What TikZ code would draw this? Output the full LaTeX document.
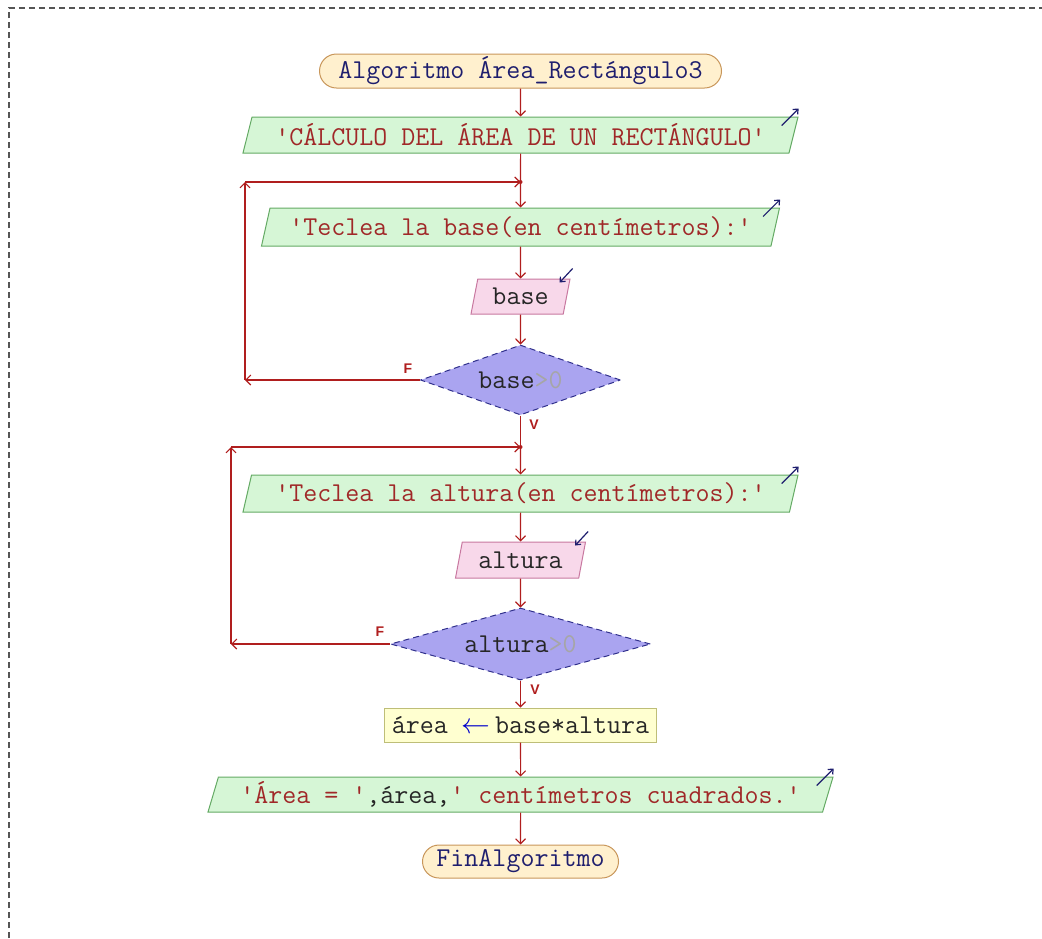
\documentclass[tikz,border=0pt]{standalone}
\usepackage{fontspec}
\setsansfont{Liberation Sans}
\usetikzlibrary{shapes.geometric,shapes.misc,arrows.meta}
\definecolor{flowred}{RGB}{176,30,30}
\definecolor{strred}{RGB}{160,40,40}
\definecolor{navytext}{RGB}{30,30,110}
\definecolor{termfill}{RGB}{255,240,206}
\definecolor{termdraw}{RGB}{200,150,90}
\definecolor{outfill}{RGB}{214,246,214}
\definecolor{outdraw}{RGB}{100,170,100}
\definecolor{infill}{RGB}{248,216,234}
\definecolor{indraw}{RGB}{200,120,160}
\definecolor{condfill}{RGB}{170,164,240}
\definecolor{conddraw}{RGB}{48,48,140}
\definecolor{asgfill}{RGB}{255,255,208}
\definecolor{asgdraw}{RGB}{190,190,120}
\definecolor{framegray}{RGB}{85,85,85}
\tikzset{%
  flownode/.style = {font=\ttfamily\fontsize{13.6}{15}\selectfont,%
                     inner sep=0pt, line width=0.5pt},%
  termbox/.style  = {flownode, rounded rectangle, draw=termdraw,%
                     fill=termfill, text=navytext},%
  outbox/.style   = {flownode, trapezium, trapezium left angle=68,%
                     trapezium right angle=112, trapezium stretches body,%
                     draw=outdraw, fill=outfill, text=strred},%
  inbox/.style    = {outbox, draw=indraw, fill=infill, text=black!85},%
  condbox/.style  = {flownode, diamond, aspect=2.8, draw=conddraw,%
                     densely dashed, fill=condfill, text=black!85},%
  asgbox/.style   = {flownode, rectangle, draw=asgdraw, fill=asgfill,%
                     text=black!85},%
  flow/.style     = {draw=flowred, line width=0.55pt,%
                     -{Straight Barb[length=2.5pt,width=5pt]}},%
  flowline/.style = {draw=flowred, line width=0.55pt},%
  iconarrow/.style= {draw=navytext, line width=0.6pt,%
                     -{Straight Barb[length=2pt,width=3.5pt]}},%
  flabel/.style   = {font=\sffamily\bfseries\fontsize{7}{8}\selectfont,%
                     text=flowred, inner sep=0pt}%
}
\begin{document}
\begin{tikzpicture}[x=0.5pt,y=-0.5pt]
	\useasboundingbox (0,0) rectangle (1042,938);
	\draw[framegray, line width=1pt, dash pattern=on 3pt off 2pt]
		(9,938) -- (9,8) -- (1042,8);
	\node[termbox, minimum width=201pt, minimum height=17pt] (start) at (520.5,71)
		{Algoritmo Área\_Rectángulo3};
	\node[outbox, minimum width=277.5pt, minimum height=18pt] (p1) at (520.5,135)
		{'CÁLCULO DEL ÁREA DE UN RECTÁNGULO'};
	\coordinate (j1) at (520.5,182);
	\coordinate (l1) at (245,182);
	\node[outbox, minimum width=259pt, minimum height=19pt] (p2) at (520.5,227)
		{'Teclea la base(en centímetros):'};
	\node[inbox, minimum width=49.5pt, minimum height=17.5pt] (base) at (520.5,296.5)
		{base};
	\node[condbox, minimum width=100pt, minimum height=35pt] (d1) at (520.5,380)
		{base\textcolor{black!35}{>0}};
	\coordinate (j2) at (520.5,447);
	\coordinate (l2) at (231,447);
	\node[outbox, minimum width=277.5pt, minimum height=18.5pt] (p3) at (520.5,493.5)
		{'Teclea la altura(en centímetros):'};
	\node[inbox, minimum width=65pt, minimum height=18pt] (altura) at (520.5,560)
		{altura};
	\node[condbox, minimum width=130pt, minimum height=36pt] (d2) at (520.5,644)
		{altura\textcolor{black!35}{>0}};
	\node[asgbox, minimum width=136pt, minimum height=17pt] (asg) at (520.5,725)
		{área \textcolor{blue!80!black}{$\leftarrow$}\,base*altura};
	\node[outbox, minimum width=312.5pt, minimum height=17.5pt, text=black!85] (p4) at (520.5,794.5)
		{\textcolor{strred}{'Área = '},área,\textcolor{strred}{' centímetros cuadrados.'}};
	\node[termbox, minimum width=98pt, minimum height=16.5pt] (end) at (520.5,861.5)
		{FinAlgoritmo};
	\node[flabel] (f1) at (408,369) {F};
	\node[flabel] (v1) at (534,425) {V};
	\node[flabel] (f2) at (380,632) {F};
	\node[flabel] (v2) at (535,690) {V};
	\draw[flow] (start) -- (p1);
	\draw[flowline] (p1) -- (j1);
	\draw[flow] (j1) -- (p2);
	\draw[flow] (p2) -- (base);
	\draw[flow] (base) -- (d1);
	\draw[flow] (d1.west) -- (d1.west -| l1);
	\draw[flow] (d1.west -| l1) -- (l1);
	\draw[flow] (l1) -- (j1);
	\draw[flowline] (d1.south) -- (j2);
	\draw[flow] (j2) -- (p3);
	\draw[flow] (p3) -- (altura);
	\draw[flow] (altura) -- (d2);
	\draw[flow] (d2.west) -- (d2.west -| l2);
	\draw[flow] (d2.west -| l2) -- (l2);
	\draw[flow] (l2) -- (j2);
	\draw[flow] (d2.south) -- (asg);
	\draw[flow] (asg) -- (p4);
	\draw[flow] (p4) -- (end);
	\fill[flowred] (j1) circle (1pt);
	\fill[flowred] (j2) circle (1pt);
	\draw[iconarrow] ([shift={(-17,9)}]p1.top right corner) -- ++(17,-17);
	\draw[iconarrow] ([shift={(-17,9)}]p2.top right corner) -- ++(17,-17);
	\draw[iconarrow] ([shift={(-17,9)}]p3.top right corner) -- ++(17,-17);
	\draw[iconarrow] ([shift={(-17,9)}]p4.top right corner) -- ++(17,-17);
	\draw[iconarrow] ([shift={(2,-10)}]base.top right corner) -- ++(-13,14);
	\draw[iconarrow] ([shift={(2,-10)}]altura.top right corner) -- ++(-13,14);
\end{tikzpicture}
\end{document}
